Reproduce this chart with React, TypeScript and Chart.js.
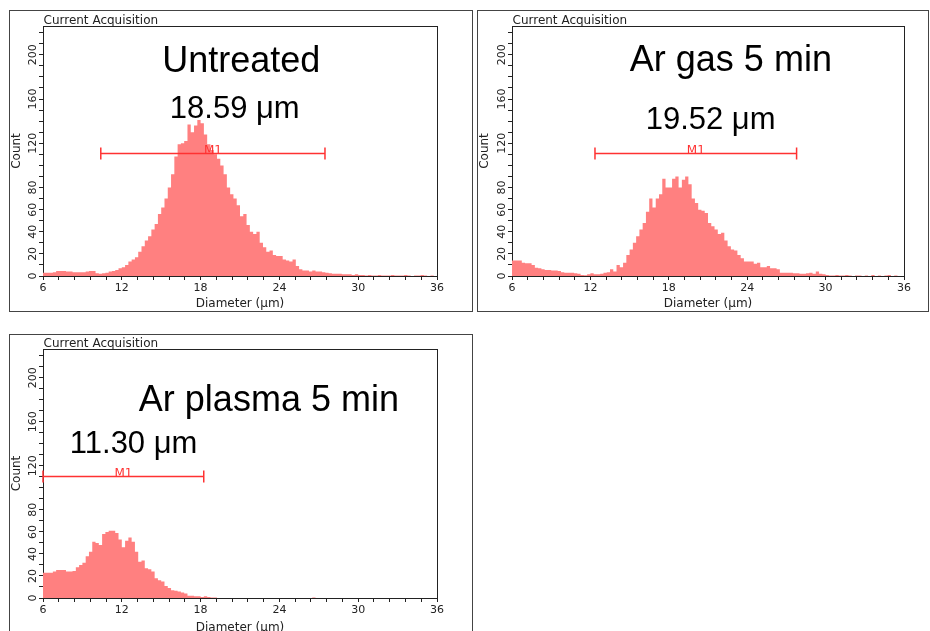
import React, { useEffect, useRef } from 'react';
import { Chart, registerables } from 'chart.js';

Chart.register(...registerables);

// ---------- data ----------
const BIN_START = 6;
const BIN_WIDTH = 0.25;
const X_MIN = 6;
const X_MAX = 36;
const Y_MIN = 0;
const Y_MAX = 226;

const xTickLabels = [6, 12, 18, 24, 30, 36];
const yTickLabels = [0, 20, 40, 60, 80, 120, 160, 200];

const untreatedCounts = [
  3, 3, 3, 3.5, 4.5, 4.5, 4.5, 4, 4, 3.5, 3.5, 3.5, 3.5, 4, 4.5, 4.5,
  2.5, 2, 2.5, 3, 4, 4.5, 5.5, 7, 8, 10, 13, 15, 17, 22, 27, 32,
  36, 42, 47, 56, 62, 70, 80, 92, 108, 119, 120, 122, 137, 130, 136, 141,
  138, 128, 119, 114, 110, 106, 100, 92, 80, 74, 70, 64, 54, 56, 46, 40,
  38, 40, 30, 26, 22, 23, 19, 18, 18, 15, 14, 13, 15, 9, 6, 5,
  5, 4, 5, 4, 4, 3.5, 3, 2.5, 2, 2, 2, 1.5, 1.5, 1.5, 1, 1.5,
  1, 1, 0.5, 1, 0.5, 0.5, 1, 0.5, 0.5, 0.5, 1, 0.5, 0.5, 0.5, 1, 0.5,
  0, 0.5, 0.5, 1, 0.5, 0, 0.5, 0,
];

const arGasCounts = [
  14, 14, 14, 12, 11.5, 11.5, 10, 7.5, 7, 6, 5.5, 5.5, 5, 5, 4.5, 3.5,
  3, 3, 3, 2.5, 2, 1, 0.6, 1.5, 2.5, 1.5, 1.5, 2, 3, 3.5, 6, 4,
  10, 8, 12, 19, 24, 30, 36, 42, 48, 58, 70, 62, 70, 74, 88, 80,
  80, 88, 90, 80, 87, 90, 83, 70, 66, 60, 59, 57, 48, 45, 42, 38,
  39, 32, 27, 24, 23, 19, 16, 13, 13, 13, 11, 12, 8, 8, 9, 7,
  7, 6, 3, 3, 3, 3, 2.5, 2.5, 2, 2, 2.5, 3, 2, 4, 2, 1.5,
  1, 0.5, 0.5, 1, 0.5, 0.5, 1, 0.5, 0, 0.5, 0.5, 0, 0.5, 0, 1, 0,
  0.5, 0, 0.5, 1, 0, 0.5, 0, 0,
];

const arPlasmaCounts = [
  23, 23, 23, 24, 25.5, 25.5, 25.5, 24, 24, 24.5, 28, 30, 32, 38, 42, 51,
  50, 48, 58, 60, 61, 61, 59, 53, 46, 52, 55, 51, 42, 33, 34, 27,
  26, 24, 18, 16, 15, 11, 9, 7, 6.5, 6, 5, 4, 2, 2, 1.5, 1.5,
  1, 1.5, 1, 0.5, 0.5, 0, 0, 0, 0, 0, 0, 0, 0, 0, 0, 0,
  0, 0, 0, 0, 0, 0, 0, 0, 0, 0, 0, 0, 0, 0, 0, 0,
  0, 0, 0.5, 0, 0, 0, 0, 0, 0, 0, 0, 0, 0, 0, 0, 0,
  0, 0, 0, 0, 0, 0, 0, 0, 0, 0, 0, 0, 0, 0, 0, 0,
  0, 0, 0, 0, 0, 0, 0, 0,
];

const sampleNames = ['Untreated', 'Ar gas 5 min', 'Ar plasma 5 min'];
const meanDiameters = ['18.59 \u03bcm', '19.52 \u03bcm', '11.30 \u03bcm'];
const gateName = 'M1';
const gateStart = [10.4, 12.35, 6.0];
const gateEnd = [27.47, 27.78, 18.24];
const gateLevel = [111, 111, 111];

// ---------- styles ----------
const FILL = 'rgb(255,128,128)';
const GATE_COLOR = 'rgb(255,50,50)';
const INK = '#222';
const SMALL_FONT = "'DejaVu Sans', sans-serif";
const BIG_FONT = "'Liberation Sans', Arial, sans-serif";

type PanelSpec = {
  counts: number[];
  idx: number;
  box: { left: number; top: number; width: number; height: number };
  padTop: number;
  padRight: number;
  yAxisWidth: number;
  xAxisHeight: number;
  nameAt: [number, number];
  meanAt: [number, number];
};

const panels: PanelSpec[] = [
  {
    counts: untreatedCounts, idx: 0,
    box: { left: 9, top: 10, width: 462, height: 300 },
    padTop: 15, padRight: 35, yAxisWidth: 33, xAxisHeight: 35,
    nameAt: [21.1, 184.5], meanAt: [20.6, 142.5],
  },
  {
    counts: arGasCounts, idx: 1,
    box: { left: 477, top: 10, width: 450, height: 300 },
    padTop: 15, padRight: 24, yAxisWidth: 34, xAxisHeight: 35,
    nameAt: [22.75, 185.5], meanAt: [21.2, 132.5],
  },
  {
    counts: arPlasmaCounts, idx: 2,
    box: { left: 9, top: 334, width: 462, height: 300 },
    padTop: 14, padRight: 35, yAxisWidth: 33, xAxisHeight: 37,
    nameAt: [23.2, 169.4], meanAt: [12.9, 131.5],
  },
];

const isLabelled = (v: number, list: number[]) =>
  list.some((t) => Math.abs(t - v) < 1e-6);

function Panel({ spec }: { spec: PanelSpec }) {
  const ref = useRef<HTMLCanvasElement | null>(null);

  useEffect(() => {
    if (!ref.current) return;
    const i = spec.idx;
    const pts = spec.counts.map((c, k) => ({ x: BIN_START + k * BIN_WIDTH, y: c }));
    pts.push({ x: X_MAX, y: spec.counts[spec.counts.length - 1] });

    const overlay = {
      id: 'overlay',
      afterDatasetsDraw(chart: any) {
        const { ctx, chartArea: a, scales } = chart;
        const x = scales.x;
        const y = scales.y;
        ctx.save();
        // frame top & right
        ctx.strokeStyle = INK;
        ctx.lineWidth = 1;
        ctx.beginPath();
        ctx.moveTo(Math.round(a.left), Math.round(a.top) + 0.5);
        ctx.lineTo(Math.round(a.right) + 1, Math.round(a.top) + 0.5);
        ctx.moveTo(Math.round(a.right) + 0.5, Math.round(a.top));
        ctx.lineTo(Math.round(a.right) + 0.5, Math.round(a.bottom) + 1);
        ctx.stroke();

        // gate marker
        const gy = Math.round(y.getPixelForValue(gateLevel[i])) + 0.5;
        const gx0 = x.getPixelForValue(gateStart[i]);
        const gx1 = x.getPixelForValue(gateEnd[i]);
        ctx.strokeStyle = GATE_COLOR;
        ctx.lineWidth = 1.5;
        ctx.beginPath();
        ctx.moveTo(gx0, gy);
        ctx.lineTo(gx1, gy);
        ctx.moveTo(gx0, gy - 6);
        ctx.lineTo(gx0, gy + 6);
        ctx.moveTo(gx1, gy - 6);
        ctx.lineTo(gx1, gy + 6);
        ctx.stroke();
        ctx.fillStyle = GATE_COLOR;
        ctx.font = `12px ${SMALL_FONT}`;
        ctx.textAlign = 'center';
        ctx.textBaseline = 'alphabetic';
        ctx.fillText(gateName, (gx0 + gx1) / 2, gy + 0.5);

        // header
        ctx.fillStyle = INK;
        ctx.font = `12px ${SMALL_FONT}`;
        ctx.textAlign = 'left';
        ctx.fillText('Current Acquisition', a.left + 0.5, a.top - 2);

        // sample annotations
        ctx.fillStyle = '#000';
        ctx.textAlign = 'center';
        ctx.font = `36px ${BIG_FONT}`;
        ctx.fillText(sampleNames[i], x.getPixelForValue(spec.nameAt[0]), y.getPixelForValue(spec.nameAt[1]));
        ctx.font = `31px ${BIG_FONT}`;
        ctx.fillText(meanDiameters[i], x.getPixelForValue(spec.meanAt[0]), y.getPixelForValue(spec.meanAt[1]));
        ctx.restore();
      },
    };

    const chart = new Chart(ref.current, {
      type: 'line',
      data: {
        datasets: [
          {
            data: pts,
            stepped: 'before',
            fill: 'origin',
            backgroundColor: FILL,
            borderColor: 'rgba(0,0,0,0)',
            borderWidth: 0,
            pointRadius: 0,
            tension: 0,
          },
        ],
      },
      options: {
        animation: false,
        responsive: false,
        events: [],
        layout: { padding: { left: 0, top: spec.padTop, right: spec.padRight, bottom: 0 } },
        plugins: { legend: { display: false }, tooltip: { enabled: false } },
        scales: {
          x: {
            type: 'linear',
            min: X_MIN,
            max: X_MAX,
            afterFit: (s: any) => { s.height = spec.xAxisHeight; },
            grid: { drawOnChartArea: false, drawTicks: true, tickLength: 4, color: INK },
            border: { display: true, color: INK },
            ticks: {
              stepSize: 1.2,
              autoSkip: false,
              maxRotation: 0,
              minRotation: 0,
              padding: 2,
              color: INK,
              font: { family: SMALL_FONT, size: 11 },
              callback: (v: any) => (isLabelled(Number(v), xTickLabels) ? String(Math.round(Number(v))) : ''),
            },
            title: {
              display: true,
              text: 'Diameter (\u00b5m)',
              color: INK,
              font: { family: SMALL_FONT, size: 12 },
              padding: { top: 0, bottom: 0 },
            },
          },
          y: {
            type: 'linear',
            min: Y_MIN,
            max: Y_MAX,
            afterFit: (s: any) => { s.width = spec.yAxisWidth; },
            grid: { drawOnChartArea: false, drawTicks: true, tickLength: 4, color: INK },
            border: { display: true, color: INK },
            ticks: {
              stepSize: 10,
              includeBounds: false,
              autoSkip: false,
              minRotation: 90,
              maxRotation: 90,
              crossAlign: 'center',
              padding: -4.5,
              color: INK,
              font: { family: SMALL_FONT, size: 11 },
              callback: (v: any) => (isLabelled(Number(v), yTickLabels) ? String(Math.round(Number(v))) : ''),
            },
            title: {
              display: true,
              text: 'Count',
              color: INK,
              font: { family: SMALL_FONT, size: 12 },
              padding: { top: 0, bottom: 0 },
            },
          },
        },
      } as any,
      plugins: [overlay],
    });
    return () => chart.destroy();
  }, [spec]);

  const b = spec.box;
  return (
    <div
      style={{
        position: 'absolute',
        left: b.left,
        top: b.top,
        width: b.width,
        height: b.height,
        border: '1px solid #444',
        background: '#fff',
      }}
    >
      <canvas ref={ref} width={b.width} height={b.height} style={{ display: 'block' }} />
    </div>
  );
}

export default function App() {
  return (
    <div
      style={{
        position: 'absolute',
        left: 0,
        top: 0,
        width: 930,
        height: 631,
        overflow: 'hidden',
        background: '#fff',
      }}
    >
      {panels.map((p) => (
        <Panel key={p.idx} spec={p} />
      ))}
    </div>
  );
}
